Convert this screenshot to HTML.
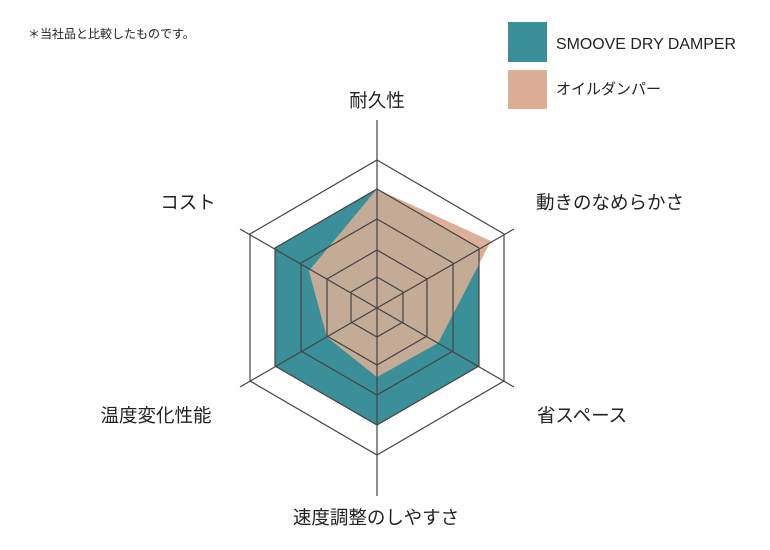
<!DOCTYPE html>
<html><head><meta charset="utf-8"><style>
html,body{margin:0;padding:0;background:#fff;}
svg{display:block;}
text{font-family:"Liberation Sans","Noto Sans CJK JP",sans-serif;fill:#222;}
</style></head><body>
<svg width="770" height="550" viewBox="0 0 770 550">
<defs>
<clipPath id="tc"><polygon points="377,189 479,248 479,366 377,425 275,366 275,248"/></clipPath>
</defs>
<text x="28" y="38" font-size="12">＊当社品と比較したものです。</text>
<rect x="508" y="22" width="39" height="40" fill="#3b8f98"/>
<rect x="508" y="70" width="39" height="39" fill="#dcae96"/>
<text x="556" y="49" font-size="16" textLength="180" lengthAdjust="spacingAndGlyphs">SMOOVE DRY DAMPER</text>
<text x="556" y="94" font-size="15">オイルダンパー</text>

<polygon points="377,189 479,248 479,366 377,425 275,366 275,248" fill="#3b8f98"/>
<polygon points="377,189 491,241 438,343 377,377 327,337 309,271" fill="#dcb098"/>
<polygon clip-path="url(#tc)" points="377,189 491,241 438,343 377,377 327,337 309,271" fill="#c4ab96"/>

<g stroke="#444" stroke-width="1.2" fill="none">
<line x1="377" y1="120" x2="377" y2="496"/>
<line x1="240" y1="229" x2="514" y2="387"/>
<line x1="240" y1="387" x2="514" y2="229"/>
<polygon points="377,160 504,234 504,381 377,455 250,381 250,234"/>
<polygon points="377,189 479,248 479,366 377,425 275,366 275,248"/>
<polygon points="377,219 453,263 453,351 377,395 301,351 301,263"/>
<polygon points="377,250 427,279 427,336 377,365 327,336 327,279"/>
<polygon points="377,277 403,292 403,322 377,337 351,322 351,292"/>
</g>
<g font-size="18.5" text-anchor="middle">
<text x="377" y="107">耐久性</text>
<text x="610" y="209">動きのなめらかさ</text>
<text x="582" y="422">省スペース</text>
<text x="376" y="524">速度調整のしやすさ</text>
<text x="156" y="422">温度変化性能</text>
<text x="188" y="209">コスト</text>
</g>
</svg>
</body></html>
